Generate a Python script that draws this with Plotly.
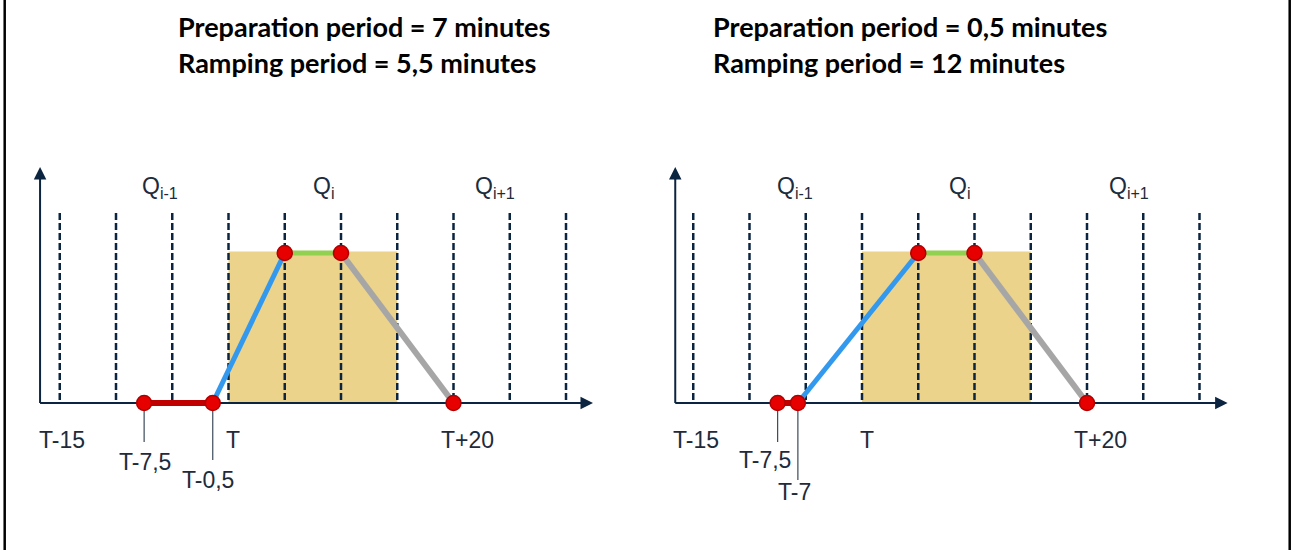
import plotly.graph_objects as go

# ---------------- data ----------------
grid_minutes = [-15, -10, -5, 0, 5, 10, 15, 20, 25, 30]
quarter_start = 0
quarter_end = 15
plateau_level = 1.0

left_profile_x = [-7.5, -1.4, 5, 10, 20]
right_profile_x = [-7.5, -5.7, 5, 10, 20]
profile_y = [0, 0, 1, 1, 0]
segment_colors = ["#C00000", "#3399EE", "#92D050", "#A6A6A6"]
segment_widths = [6, 5, 5, 6]

axis_tick_labels = ["T-15", "T", "T+20"]
axis_tick_x = [-14.8, 0.4, 21.2]
axis_tick_y = -0.247

left_point_labels = ["T-7,5", "T-0,5"]
left_point_label_x = [-7.4, -1.8]
left_point_label_y = [-0.39, -0.51]
left_connector_end_y = [-0.26, -0.38]

right_point_labels = ["T-7,5", "T-7"]
right_point_label_x = [-8.6, -6.0]
right_point_label_y = [-0.38, -0.59]
right_connector_end_y = [-0.26, -0.513]

quarter_labels = ["Q<sub>i-1</sub>", "Q<sub>i</sub>", "Q<sub>i+1</sub>"]
left_quarter_label_x = [-6.1, 8.4, 23.7]
right_quarter_label_x = [-5.95, 8.7, 23.7]
quarter_label_y = 1.44

left_title = ["Preparation period = 7 minutes", "Ramping period = 5,5 minutes"]
right_title = ["Preparation period = 0,5 minutes", "Ramping period = 12 minutes"]

# ---------------- layout constants ----------------
W, H = 1297, 550
PX_PER_MIN = 11.25
PX_PER_UNIT = 150.0
AXIS_Y_PX = 403
LEFT_T_PX = 228.5
RIGHT_T_PX = 862.0
SPLIT_PX = W / 2

NAVY = "#0B2440"
TEXT = "#1E2B3A"
BEIGE = "#EBD38B"
LABEL_FONT = dict(family="Liberation Sans", size=23, color=TEXT)

y_range = [(AXIS_Y_PX - H) / PX_PER_UNIT, AXIS_Y_PX / PX_PER_UNIT]


def x_range(p0, p1, t_px):
    return [(p0 - t_px) / PX_PER_MIN, (p1 - t_px) / PX_PER_MIN]


panels = [
    dict(xa="x", ya="y", prof=left_profile_x, plab=left_point_labels,
         plx=left_point_label_x, ply=left_point_label_y, pce=left_connector_end_y,
         qx=left_quarter_label_x, xaxis_from=-16.75, xaxis_to=32.4, title=left_title,
         title_px=176),
    dict(xa="x2", ya="y2", prof=right_profile_x, plab=right_point_labels,
         plx=right_point_label_x, ply=right_point_label_y, pce=right_connector_end_y,
         qx=right_quarter_label_x, xaxis_from=-16.6, xaxis_to=32.5, title=right_title,
         title_px=711),
]

fig = go.Figure()
shapes = []
annotations = []

for p in panels:
    xa, ya = p["xa"], p["ya"]
    # beige quarter-hour block
    shapes.append(dict(type="rect", xref=xa, yref=ya, x0=quarter_start, x1=quarter_end,
                       y0=0, y1=plateau_level * 1.01, fillcolor=BEIGE, line=dict(width=0),
                       layer="below"))
    # dashed grid
    for g in grid_minutes:
        shapes.append(dict(type="line", xref=xa, yref=ya, x0=g, x1=g, y0=0.02, y1=1.267,
                           line=dict(color=NAVY, width=2.5, dash="7px,3px"), layer="below"))
    # axes lines
    shapes.append(dict(type="line", xref=xa, yref=ya, x0=p["xaxis_from"], x1=p["xaxis_to"] - 0.6,
                       y0=0, y1=0, line=dict(color=NAVY, width=2), layer="below"))
    shapes.append(dict(type="line", xref=xa, yref=ya, x0=p["xaxis_from"], x1=p["xaxis_from"],
                       y0=0, y1=1.573 - 0.05, line=dict(color=NAVY, width=2), layer="below"))
    # arrowheads
    annotations.append(dict(xref=xa, yref=ya, x=p["xaxis_to"], y=0, ax=-14, ay=0, text="",
                            showarrow=True, arrowhead=2, arrowwidth=2, arrowsize=1.25,
                            arrowcolor=NAVY))
    annotations.append(dict(xref=xa, yref=ya, x=p["xaxis_from"], y=1.573, ax=0, ay=14, text="",
                            showarrow=True, arrowhead=2, arrowwidth=2, arrowsize=1.25,
                            arrowcolor=NAVY))
    # connectors from points to their labels
    for i in range(2):
        shapes.append(dict(type="line", xref=xa, yref=ya, x0=p["prof"][i], x1=p["prof"][i],
                           y0=0, y1=p["pce"][i], line=dict(color="#3C4A5A", width=1.2),
                           layer="below"))
    # profile segments
    for i in range(4):
        fig.add_trace(go.Scatter(x=p["prof"][i:i + 2], y=profile_y[i:i + 2], mode="lines",
                                 line=dict(color=segment_colors[i], width=segment_widths[i]),
                                 xaxis=xa, yaxis=ya, hoverinfo="skip", showlegend=False))
    fig.add_trace(go.Scatter(x=p["prof"], y=profile_y, mode="markers",
                             marker=dict(size=15, color="#E60000",
                                         line=dict(color="#B00000", width=1.5)),
                             xaxis=xa, yaxis=ya, hoverinfo="skip", showlegend=False))
    # axis tick labels
    for lab, lx in zip(axis_tick_labels, axis_tick_x):
        annotations.append(dict(xref=xa, yref=ya, x=lx, y=axis_tick_y, text=lab, showarrow=False,
                                xanchor="center", yanchor="middle", font=LABEL_FONT))
    for lab, lx, ly in zip(p["plab"], p["plx"], p["ply"]):
        annotations.append(dict(xref=xa, yref=ya, x=lx, y=ly, text=lab, showarrow=False,
                                xanchor="center", yanchor="middle", font=LABEL_FONT))
    for lab, lx in zip(quarter_labels, p["qx"]):
        annotations.append(dict(xref=xa, yref=ya, x=lx, y=quarter_label_y, text=lab,
                                showarrow=False, xanchor="center", yanchor="middle",
                                font=LABEL_FONT))
    # titles
    for line, ypx in zip(p["title"], [27, 63]):
        annotations.append(dict(xref="paper", yref="paper", x=p["title_px"] / W, y=1 - ypx / H,
                                text="<b>" + line + "</b>", showarrow=False,
                                xanchor="left", yanchor="middle",
                                font=dict(family="Lato", size=27, color="#000000")))

# outer vertical frame lines
for xp in [4.7, 1289.7]:
    shapes.append(dict(type="line", xref="paper", yref="paper", x0=xp / W, x1=xp / W,
                       y0=0, y1=1, line=dict(color="#000000", width=2.5)))

axis_common = dict(visible=False, showgrid=False, zeroline=False, fixedrange=True)
fig.update_layout(
    width=W, height=H,
    margin=dict(l=0, r=0, t=0, b=0),
    paper_bgcolor="white", plot_bgcolor="rgba(0,0,0,0)",
    xaxis=dict(domain=[0, SPLIT_PX / W], range=x_range(0, SPLIT_PX, LEFT_T_PX), **axis_common),
    xaxis2=dict(domain=[SPLIT_PX / W, 1], range=x_range(SPLIT_PX, W, RIGHT_T_PX), **axis_common),
    yaxis=dict(domain=[0, 1], range=y_range, anchor="x", **axis_common),
    yaxis2=dict(domain=[0, 1], range=y_range, anchor="x2", **axis_common),
    shapes=shapes,
    annotations=annotations,
    showlegend=False,
)

fig.write_html("out.html", post_script="document.body.style.margin='0px';",
               config={"displayModeBar": False})
